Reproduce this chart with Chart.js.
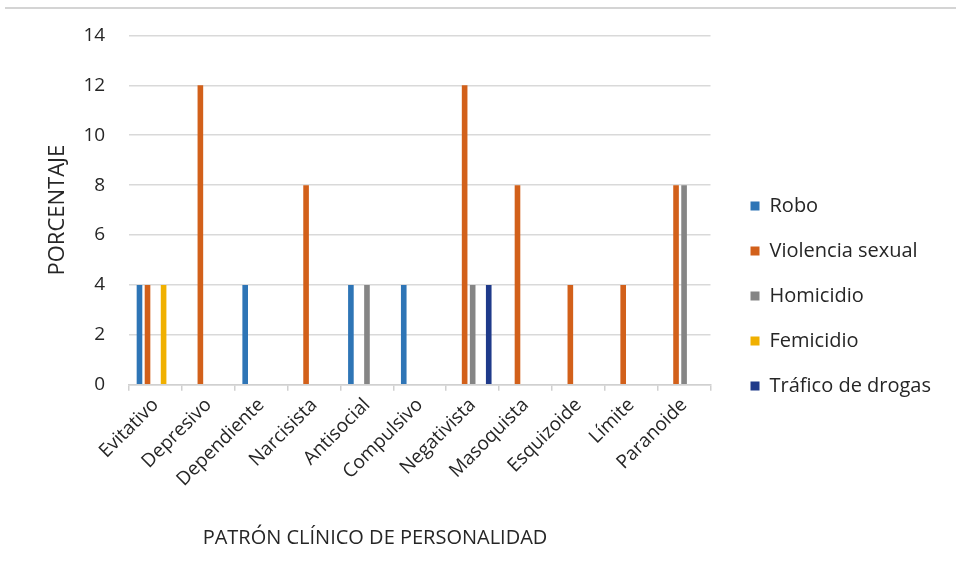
<!DOCTYPE html>
<html>
<head>
<meta charset="utf-8">
<script src="https://cdn.jsdelivr.net/npm/chart.js@4"></script>
<style>
  html, body { margin: 0; padding: 0; background: #fff; }
  #wrap { position: relative; width: 956px; height: 581px; }
  #topline { position: absolute; left: 5px; right: 0; top: 7px; height: 2px; background: #d4d4d4; }
</style>
</head>
<body>
<div id="wrap">
  <div id="topline"></div>
  <canvas id="myChart" width="956" height="581"></canvas>
</div>
<script>
var categorias = ['Evitativo', 'Depresivo', 'Dependiente', 'Narcisista', 'Antisocial', 'Compulsivo', 'Negativista', 'Masoquista', 'Esquizoide', 'Límite', 'Paranoide'];
var robo = [4, 0, 4, 0, 4, 4, 0, 0, 0, 0, 0];
var violencia_sexual = [4, 12, 0, 8, 0, 0, 12, 8, 4, 4, 8];
var homicidio = [0, 0, 0, 0, 4, 0, 4, 0, 0, 0, 8];
var femicidio = [4, 0, 0, 0, 0, 0, 0, 0, 0, 0, 0];
var trafico_drogas = [0, 0, 0, 0, 0, 0, 4, 0, 0, 0, 0];
var ticks_y = [0, 2, 4, 6, 8, 10, 12, 14];
var titulo_x = 'PATRÓN CLÍNICO DE PERSONALIDAD';

var fuente = "'Open Sans', sans-serif";
var texto = '#262626';

function serie(label, data, color) {
    return {
        label: label,
        data: data,
        backgroundColor: color,
        borderWidth: 0,
        barPercentage: 0.7,
        categoryPercentage: 0.76
    };
}

// separa un poco la leyenda del área del gráfico
var moverLeyenda = {
    id: 'moverLeyenda',
    afterLayout: function (chart) {
        var l = chart.legend;
        l.left += 15; l.right += 15;
        l.top += 37; l.bottom += 37;
    }
};

// título del eje X, algo corrido a la izquierda como en Excel
var tituloX = {
    id: 'tituloX',
    afterDraw: function (chart) {
        var c = chart.ctx;
        c.save();
        c.font = '20px ' + fuente;
        c.fillStyle = texto;
        c.textAlign = 'center';
        c.textBaseline = 'middle';
        c.fillText(titulo_x, 375, 538);
        c.restore();
    }
};

var ctx = document.getElementById('myChart').getContext('2d');
var chart = new Chart(ctx, {
    type: 'bar',
    data: {
        labels: categorias,
        datasets: [
            serie('Robo', robo, '#2E75B6'),
            serie('Violencia sexual', violencia_sexual, '#D2601A'),
            serie('Homicidio', homicidio, '#858585'),
            serie('Femicidio', femicidio, '#F0B000'),
            serie('Tráfico de drogas', trafico_drogas, '#1F3A8A')
        ]
    },
    plugins: [moverLeyenda, tituloX],
    options: {
        responsive: false,
        animation: false,
        layout: {
            padding: { top: 24, right: 30, left: 19, bottom: 87 }
        },
        plugins: {
            tooltip: { enabled: false },
            legend: {
                position: 'right',
                labels: {
                    boxWidth: 9,
                    boxHeight: 9,
                    padding: 25,
                    color: texto,
                    font: { family: fuente, size: 20 }
                }
            }
        },
        scales: {
            x: {
                afterFit: function (axis) {
                    axis.paddingLeft = 0;
                    axis.paddingRight = 0;
                },
                grid: {
                    offset: true,
                    drawOnChartArea: false,
                    drawTicks: true,
                    tickLength: 6,
                    color: '#d0d0d0',
                    lineWidth: 1.5
                },
                border: { display: true, color: '#d0d0d0', width: 1.5 },
                ticks: {
                    minRotation: 45,
                    maxRotation: 45,
                    color: texto,
                    font: { family: fuente, size: 19 }
                }
            },
            y: {
                min: 0,
                max: 14,
                afterBuildTicks: function (axis) {
                    axis.ticks = ticks_y.map(function (v) { return { value: v }; });
                },
                // Chart.js cuenta dos veces el padding de las etiquetas
                afterFit: function (axis) {
                    axis.width -= 24;
                },
                grid: {
                    color: '#d9d9d9',
                    lineWidth: 1.5,
                    drawTicks: false
                },
                border: { display: false },
                ticks: {
                    padding: 24,
                    color: texto,
                    font: { family: fuente, size: 19 }
                },
                title: {
                    display: true,
                    text: 'PORCENTAJE',
                    color: texto,
                    font: { family: fuente, size: 22 },
                    padding: { top: 26, bottom: 12 }
                }
            }
        }
    }
});
</script>
</body>
</html>
